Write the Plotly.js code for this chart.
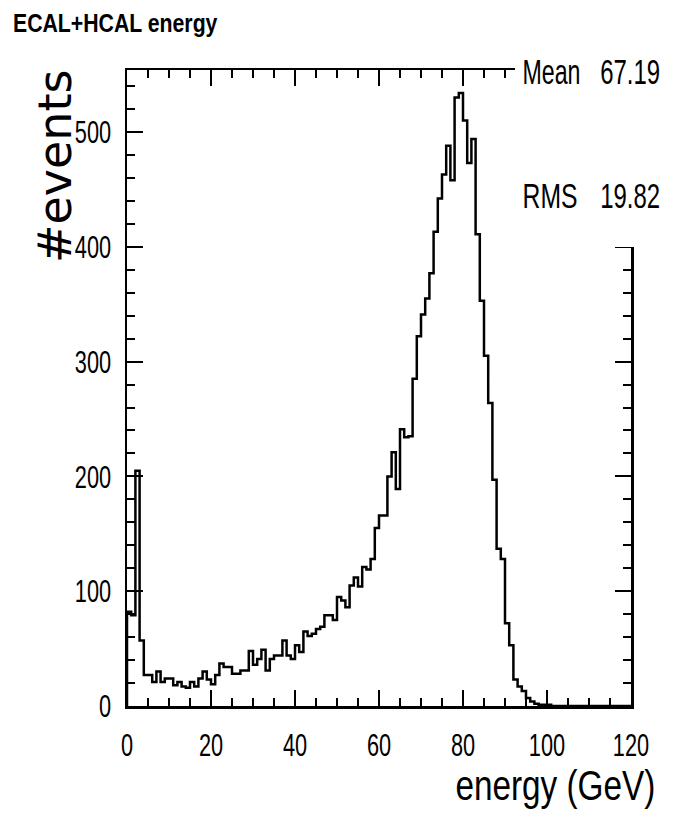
<!DOCTYPE html>
<html>
<head>
<meta charset="utf-8">
<script src="https://cdn.plot.ly/plotly-3.0.1.min.js"></script>
<style>
  html, body { margin: 0; padding: 0; background: #fff; }
  #chart { width: 681px; height: 832px; }
</style>
</head>
<body>
<div id="chart"></div>
<script>
// Histogram: ECAL+HCAL energy, 120 bins of 1 GeV from 0 to 120
const binLow = 0;
const binWidth = 1;
const counts = [
  82, 79, 205, 57, 27, 27, 21, 30, 21, 24,
  24, 18, 21, 17, 16, 21, 17, 24, 30, 23,
  19, 27, 37, 34, 34, 28, 28, 31, 31, 48,
  36, 41, 49, 31, 41, 44, 44, 57, 44, 41,
  53, 47, 65, 61, 63, 67, 69, 79, 79, 75,
  95, 92, 86, 105, 112, 104, 121, 119, 128, 155,
  166, 166, 200, 221, 189, 241, 234, 235, 285, 322,
  341, 355, 377, 413, 442, 463, 488, 458, 530, 534,
  510, 473, 494, 411, 353, 305, 264, 197, 137, 128,
  72, 53, 23, 17, 13, 7, 4, 2, 1, 1,
  1, 0, 0, 0, 0, 0, 0, 0, 0, 0,
  0, 0, 0, 0, 0, 0, 0, 0, 0, 0
];
const xTickVals = [0, 20, 40, 60, 80, 100, 120];
const yTickVals = [0, 100, 200, 300, 400, 500];
const statLabels = ['Mean', 'RMS'];
const statValues = ['67.19', '19.82'];
const titleText = 'ECAL+HCAL energy';
const xTitle = 'energy (GeV)';
const yTitle = '#events';

// build step outline from bin edges
const xs = [binLow];
const ys = [0];
for (let i = 0; i < counts.length; i++) {
  xs.push(binLow + i * binWidth);
  ys.push(counts[i]);
}
xs.push(binLow + counts.length * binWidth);
ys.push(counts[counts.length - 1]);

const SANS = "'Liberation Sans', Arial, sans-serif";

const trace = {
  type: 'scatter',
  mode: 'lines',
  x: xs,
  y: ys,
  line: { shape: 'hv', color: '#000', width: 2.5 },
  hoverinfo: 'skip'
};

const W = 681, H = 832;
const L = 127, R = 50, T = 70, B = 126;
const pw = W - L - R, ph = H - T - B;
const px = v => (v - L) / pw;
const py = v => (H - B - v) / ph;

const annFont = { family: SANS, size: 35, color: '#000' };
const annotations = [
  { text: yTitle, xref: 'paper', yref: 'paper', x: px(55), y: py(166), textangle: -90,
    xanchor: 'center', yanchor: 'middle', showarrow: false,
    font: { family: "'DejaVu Sans', sans-serif", size: 46, color: '#000' } },
  { text: xTitle, xref: 'paper', yref: 'paper', x: px(657), y: py(785),
    xanchor: 'right', yanchor: 'middle', showarrow: false,
    font: { family: SANS, size: 42, color: '#000' } }
];
const statY = [71, 195];
for (let i = 0; i < statLabels.length; i++) {
  annotations.push({ text: statLabels[i], xref: 'paper', yref: 'paper', x: px(521), y: py(statY[i]),
    xanchor: 'left', yanchor: 'middle', showarrow: false, font: annFont });
  annotations.push({ text: statValues[i], xref: 'paper', yref: 'paper', x: px(662), y: py(statY[i]),
    xanchor: 'right', yanchor: 'middle', showarrow: false, font: annFont });
}

const layout = {
  width: W, height: H,
  margin: { l: L, r: R, t: T, b: B, pad: 0 },
  paper_bgcolor: '#fff', plot_bgcolor: '#fff',
  showlegend: false,
  title: { text: '<b>' + titleText + '</b>', xref: 'container', yref: 'container',
    x: 13 / W, xanchor: 'left', y: 1 - 23 / H, yanchor: 'middle',
    font: { family: SANS, size: 26, color: '#000' } },
  xaxis: {
    range: [0, 120], tickvals: xTickVals, ticktext: xTickVals.map(String),
    showgrid: false, zeroline: false,
    showline: true, linecolor: '#000', linewidth: 2.5, mirror: 'ticks',
    ticks: 'inside', ticklen: 16, tickwidth: 2, tickcolor: '#000',
    minor: { dtick: 5, ticks: 'inside', ticklen: 8, tickwidth: 2, tickcolor: '#000', showgrid: false },
    tickfont: { family: SANS, size: 32, color: '#000' },
    ticklabelstandoff: 9
  },
  yaxis: {
    range: [0, 554], tickvals: yTickVals, ticktext: yTickVals.map(String),
    showgrid: false, zeroline: false,
    showline: true, linecolor: '#000', linewidth: 2.5, mirror: 'ticks',
    ticks: 'inside', ticklen: 16, tickwidth: 2, tickcolor: '#000',
    minor: { dtick: 20, ticks: 'inside', ticklen: 8, tickwidth: 2, tickcolor: '#000', showgrid: false },
    tickfont: { family: SANS, size: 32, color: '#000' },
    ticklabelstandoff: 7
  },
  shapes: [
    { type: 'rect', xref: 'paper', yref: 'paper', layer: 'above',
      x0: px(515), x1: px(681), y0: py(247), y1: py(0),
      fillcolor: '#fff', line: { width: 0 } }
  ],
  annotations: annotations
};

// Condense an SVG element horizontally (the reference uses a narrow face), keeping one edge fixed.
function condense(el, k, keep) {
  const b = el.getBBox();
  if (!b.width) return;
  const ax = keep === 'left' ? b.x : keep === 'right' ? b.x + b.width : b.x + b.width / 2;
  const t0 = el.getAttribute('transform') || '';
  el.setAttribute('transform',
    (t0 + ' translate(' + ax.toFixed(2) + ',0) scale(' + k.toFixed(4) + ',1) translate(' + (-ax).toFixed(2) + ',0)').trim());
}

Plotly.newPlot('chart', [trace], layout, { staticPlot: true, displayModeBar: false }).then(gd => {
  gd.querySelectorAll('.xtick text').forEach(t => condense(t, 0.68, 'center'));
  gd.querySelectorAll('.ytick text').forEach(t => condense(t, 0.68, 'right'));
  const g = gd.querySelector('.gtitle');
  if (g) condense(g, 205 / g.getBBox().width, 'left');
  gd.querySelectorAll('.annotation-text').forEach(t => {
    const s = t.textContent;
    const w = t.getBBox().width;
    const grp = t.parentNode;
    if (s === statLabels[0]) condense(grp, 58 / w, 'left');
    else if (s === statLabels[1]) condense(grp, 55 / w, 'left');
    else if (s === statValues[0] || s === statValues[1]) condense(grp, 60 / w, 'right');
    else if (s === xTitle) condense(grp, 200 / w, 'right');
  });
});
</script>
</body>
</html>
